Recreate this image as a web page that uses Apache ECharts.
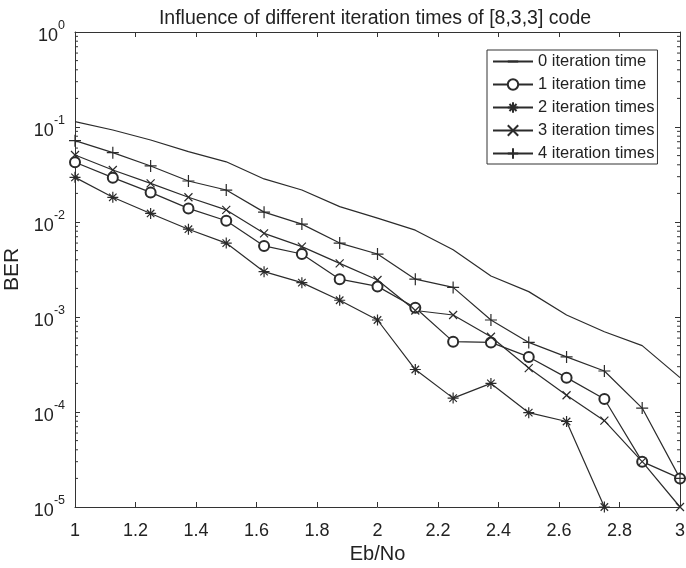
<!DOCTYPE html>
<html>
<head>
<meta charset="utf-8">
<script src="https://cdn.jsdelivr.net/npm/echarts@6/dist/echarts.min.js"></script>
<style>
  html, body { margin: 0; padding: 0; background: #fff; }
  #main { width: 686px; height: 568px; }
</style>
</head>
<body>
<div id="main"></div>
<script>
// Eb/No values (x) and BER for each number of iterations
const ebNo = [1, 1.125, 1.25, 1.375, 1.5, 1.625, 1.75, 1.875, 2, 2.125, 2.25, 2.375, 2.5, 2.625, 2.75, 2.875, 3];
const ber0 = [0.114, 0.093, 0.073, 0.055, 0.043, 0.0284, 0.0217, 0.0145, 0.011, 0.0082, 0.0051, 0.0027, 0.00185, 0.00105, 0.0007, 0.0005, 0.00023];
const ber1 = [0.0425, 0.0293, 0.0205, 0.0139, 0.0103, 0.0056, 0.0046, 0.0025, 0.0021, 0.00125, 0.00055, 0.00054, 0.00038, 0.00023, 0.000137, 0.00003, 0.00002];
const ber2 = [0.0295, 0.0182, 0.0123, 0.0084, 0.006, 0.003, 0.0023, 0.0015, 0.00093, 0.00028, 0.00014, 0.0002, 0.0000984, 0.0000794, 0.00001, null, null];
const ber3 = [0.0507, 0.0353, 0.0255, 0.0182, 0.0134, 0.0076, 0.0055, 0.00367, 0.00245, 0.00117, 0.00105, 0.00062, 0.00029, 0.00015, 0.000081, 0.00003, 0.00001];
const ber4 = [0.0718, 0.0537, 0.0389, 0.027, 0.0217, 0.0127, 0.0095, 0.006, 0.0046, 0.0025, 0.00205, 0.00093, 0.00054, 0.00038, 0.00027, 0.00011, 0.00002];
const names = ['0 iteration time', '1 iteration time', '2 iteration times', '3 iteration times', '4 iteration times'];

// minor log ticks 2..9 for each decade
const minorVals = [];
for (let e = -5; e < 0; e++) {
    for (let k = 2; k <= 9; k++) minorVals.push(k * Math.pow(10, e));
}

const INK = '#2b2b2b';
const FONT = 'Liberation Sans, Arial, sans-serif';

const SYM = {
    // plain line marker (moveTo corners keep a square bounding box)
    flat: 'path://M0,0M10,10M0,5L10,5',
    circle: 'emptyCircle',
    star: 'path://M5,0L5,10M0,5L10,5M1.6,1.6L8.4,8.4M8.4,1.6L1.6,8.4',
    cross: 'path://M0,0L10,10M10,0L0,10',
    plus: 'path://M5,0L5,10M0,5L10,5'
};

function pairs(ys) {
    return ebNo.map((x, i) => [x, ys[i]]);
}

function lineSeries(name, ys, symbol, size, show) {
    return {
        name: name,
        type: 'line',
        data: pairs(ys),
        symbol: symbol,
        showSymbol: show,
        symbolSize: size,
        clip: false,
        connectNulls: false,
        lineStyle: { color: INK, width: 1.2 },
        itemStyle: { color: INK, borderColor: INK, borderWidth: 1.2 },
        emphasis: { disabled: true },
        animation: false
    };
}

const chart = echarts.init(document.getElementById('main'));

const option = {
    animation: false,
    backgroundColor: '#fff',
    title: {
        text: 'Influence of different iteration times of [8,3,3] code',
        left: 370,
        top: 4,
        textAlign: 'center',
        textStyle: { fontFamily: FONT, fontSize: 19.5, fontWeight: 'normal', color: '#222' }
    },
    grid: { left: 75, right: 6, top: 32, bottom: 61, outerBoundsMode: 'none' },
    legend: {
        orient: 'vertical',
        left: 487,
        top: 50,
        itemWidth: 40,
        itemHeight: 13,
        itemGap: 6,
        padding: [3, 3, 2, 5],
        borderColor: '#333',
        borderWidth: 1,
        backgroundColor: '#fff',
        textStyle: { fontFamily: FONT, fontSize: 16.5, color: '#222' },
        data: names
    },
    xAxis: [{
        type: 'value',
        min: 1,
        max: 3,
        interval: 0.2,
        name: 'Eb/No',
        nameLocation: 'middle',
        nameGap: 28,
        nameTextStyle: { fontFamily: FONT, fontSize: 20, color: '#222' },
        axisLine: { show: true, lineStyle: { color: '#333', width: 1 } },
        axisTick: { show: true, inside: true, length: 5, lineStyle: { color: '#333' } },
        axisLabel: { fontFamily: FONT, fontSize: 18, color: '#222', margin: 15 },
        splitLine: { show: false }
    }, {
        type: 'value',
        position: 'top',
        min: 1,
        max: 3,
        interval: 0.2,
        axisLine: { show: true, lineStyle: { color: '#333', width: 1 } },
        axisTick: { show: true, inside: true, length: 5, lineStyle: { color: '#333' } },
        axisLabel: { show: false },
        splitLine: { show: false }
    }],
    yAxis: [{
        type: 'log',
        logBase: 10,
        min: 1e-5,
        max: 1,
        name: 'BER',
        nameLocation: 'middle',
        nameGap: 37,
        nameTextStyle: { fontFamily: FONT, fontSize: 21, color: '#222' },
        axisLine: { show: true, lineStyle: { color: '#333', width: 1 } },
        axisTick: { show: true, inside: true, length: 5, lineStyle: { color: '#333' } },
        axisLabel: {
            margin: 10,
            formatter: function (v) {
                const e = Math.round(Math.log10(v));
                return '{b|10}{s|' + e + '}';
            },
            rich: {
                b: { fontFamily: FONT, fontSize: 18, color: '#222', padding: [8, 0, 0, 0] },
                s: { fontFamily: FONT, fontSize: 12.5, color: '#222', verticalAlign: 'top', padding: [0, 0, 8, 0] }
            }
        },
        splitLine: { show: false }
    }, {
        type: 'log',
        logBase: 10,
        min: 1e-5,
        max: 1,
        position: 'right',
        axisLine: { show: true, lineStyle: { color: '#333', width: 1 } },
        axisTick: { show: true, inside: true, length: 5, lineStyle: { color: '#333' } },
        axisLabel: { show: false },
        splitLine: { show: false }
    }],
    series: [
        lineSeries(names[0], ber0, SYM.flat, 10, false),
        lineSeries(names[1], ber1, SYM.circle, 10, true),
        lineSeries(names[2], ber2, SYM.star, 11, true),
        lineSeries(names[3], ber3, SYM.cross, 8, true),
        lineSeries(names[4], ber4, SYM.plus, 12, true),
        {
            // minor ticks on left and right log axes
            type: 'custom',
            silent: true,
            clip: false,
            data: minorVals.map(v => [1, v]),
            renderItem: function (params, api) {
                const v = api.value(1);
                const l = api.coord([1, v]);
                const r = api.coord([3, v]);
                return {
                    type: 'group',
                    children: [
                        { type: 'line', shape: { x1: l[0], y1: l[1], x2: l[0] + 3, y2: l[1] }, style: { stroke: '#333', lineWidth: 1 } },
                        { type: 'line', shape: { x1: r[0], y1: r[1], x2: r[0] - 3, y2: r[1] }, style: { stroke: '#333', lineWidth: 1 } }
                    ]
                };
            }
        }
    ]
};

chart.setOption(option);
</script>
</body>
</html>
